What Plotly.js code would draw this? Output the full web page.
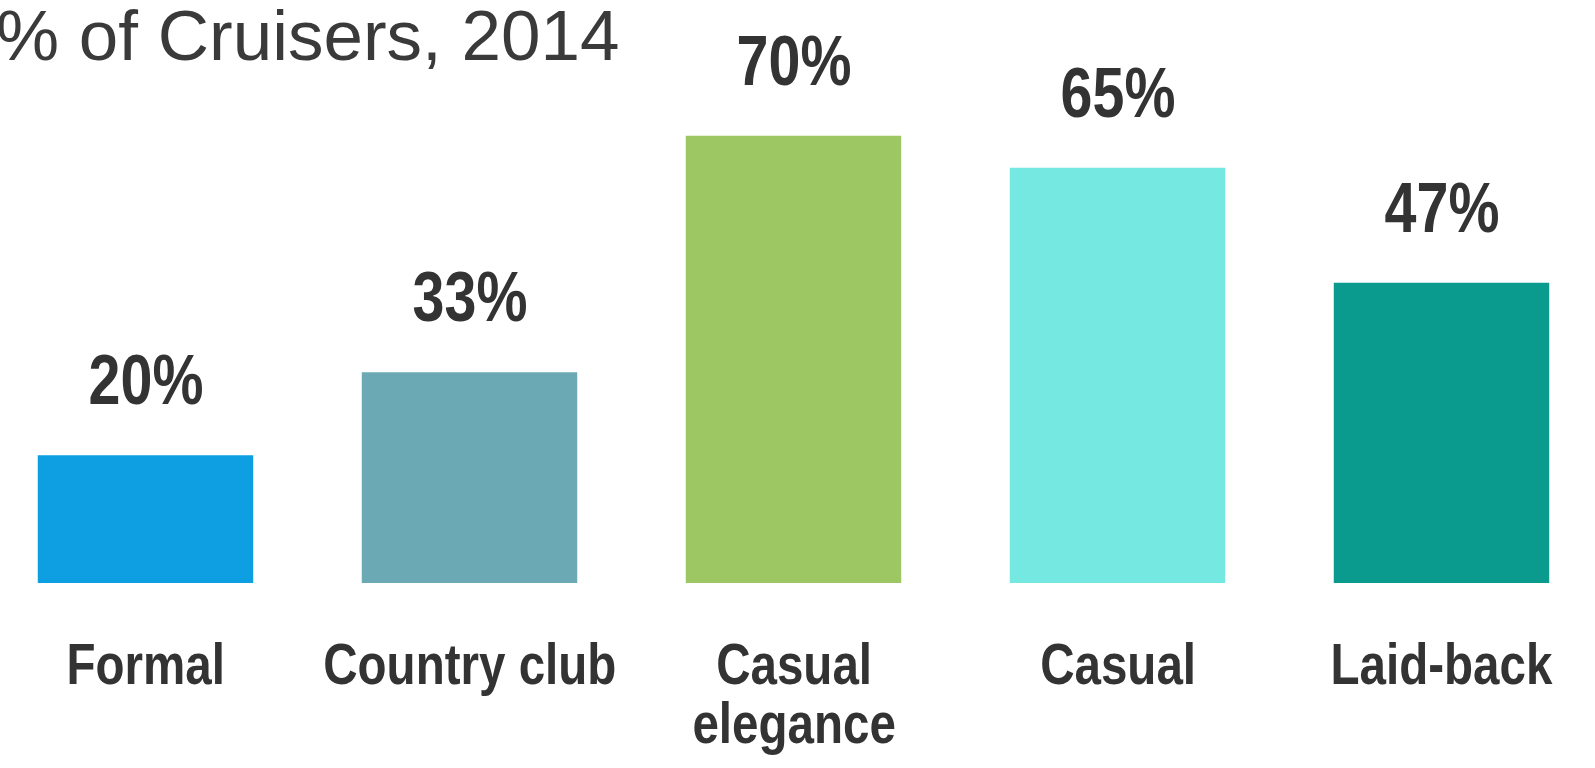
<!DOCTYPE html>
<html>
<head>
<meta charset="utf-8">
<script src="https://cdn.plot.ly/plotly-3.0.1.min.js"></script>
<style>
  html, body { margin: 0; padding: 0; background: #ffffff; }
  #chart { width: 1595px; height: 768px; }
</style>
</head>
<body>
<div id="chart"></div>
<script>
// ---- data ----
const categories = ["Formal", "Country club", "Casual elegance", "Casual", "Laid-back"];
const categoryLines = [["Formal"], ["Country club"], ["Casual", "elegance"], ["Casual"], ["Laid-back"]];
const values = [20, 33, 70, 65, 47];
const valueLabels = ["20%", "33%", "70%", "65%", "47%"];
const barColors = ["#0E9FE3", "#6BA9B4", "#9DC763", "#76E8E2", "#0A9A8E"];
const titleText = "% of Cruisers, 2014";

// ---- layout constants ----
const W = 1595, H = 768;
const plotBottom = 583;          // pixel y of value 0
const pxPerUnit = 6.39;          // pixels per percentage point
const pitch = 324;               // pixels between category centres
const firstCenter = 145.5;       // pixel x of first category centre
const narrow = 0.82;             // horizontal condensing of the bold labels

const textColor = "#333333";
const boldFont = { family: "Liberation Sans, Arial, sans-serif", size: 70, color: textColor, weight: "bold" };
const catFont = { family: "Liberation Sans, Arial, sans-serif", size: 58, color: textColor, weight: "bold" };

const annotations = [];
const condensedIdx = [];

// value labels
categories.forEach((c, i) => {
  condensedIdx.push(annotations.length);
  annotations.push({
    x: c, y: values[i], xref: "x", yref: "y",
    text: "<b>" + valueLabels[i] + "</b>",
    showarrow: false, xanchor: "center", yanchor: "bottom",
    yshift: 34, font: boldFont
  });
});

// category labels (one annotation per line for tight line spacing)
categories.forEach((c, i) => {
  categoryLines[i].forEach((line, j) => {
    condensedIdx.push(annotations.length);
    annotations.push({
      x: c, y: 0, xref: "x", yref: "paper",
      text: "<b>" + line + "</b>",
      showarrow: false, xanchor: "center", yanchor: "top",
      yshift: -46 - j * 59, font: catFont
    });
  });
});

// title
annotations.push({
  x: 622 / W, y: (plotBottom - 77) / plotBottom, xref: "paper", yref: "paper",
  text: titleText, showarrow: false, xanchor: "right", yanchor: "bottom",
  font: { family: "Liberation Sans, Arial, sans-serif", size: 71, color: "#3a3a3a" }
});

const trace = {
  type: "bar",
  x: categories,
  y: values,
  marker: { color: barColors, line: { width: 0 } },
  hoverinfo: "skip",
  showlegend: false
};

const layout = {
  width: W, height: H,
  margin: { l: 0, r: 0, t: 0, b: H - plotBottom, pad: 0 },
  paper_bgcolor: "#ffffff",
  plot_bgcolor: "#ffffff",
  bargap: 0.335,
  xaxis: {
    type: "category",
    range: [-firstCenter / pitch, (W - firstCenter) / pitch],
    showticklabels: false, showgrid: false, zeroline: false, showline: false, ticks: ""
  },
  yaxis: {
    range: [0, plotBottom / pxPerUnit],
    showticklabels: false, showgrid: false, zeroline: false, showline: false, ticks: ""
  },
  annotations: annotations,
  showlegend: false
};

Plotly.newPlot("chart", [trace], layout, { displayModeBar: false, staticPlot: true }).then(gd => {
  // condense the bold labels horizontally (narrow-font look), keeping each centred
  condensedIdx.forEach(k => {
    const t = gd.querySelector('g.annotation[data-index="' + k + '"] text.annotation-text');
    if (!t) return;
    const bb = t.getBBox();
    const cx = bb.x + bb.width / 2;
    t.setAttribute("transform", "matrix(" + narrow + ",0,0,1," + (cx * (1 - narrow)) + ",0)");
  });
});
</script>
</body>
</html>
